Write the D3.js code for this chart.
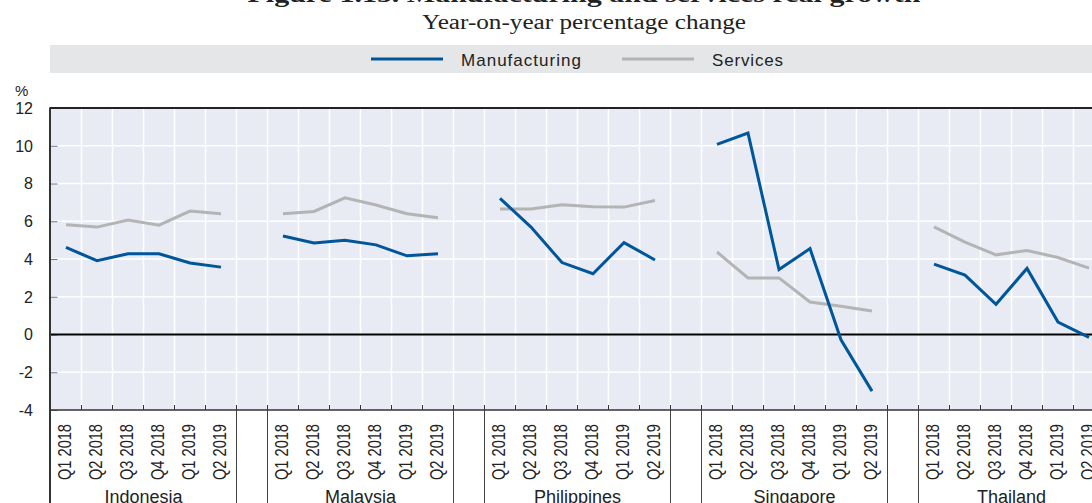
<!DOCTYPE html>
<html>
<head>
<meta charset="utf-8">
<script src="https://cdn.jsdelivr.net/npm/d3@7/dist/d3.min.js"></script>
<style>
  html, body { margin: 0; padding: 0; background: #fff; overflow: hidden; }
  svg { display: block; }
</style>
</head>
<body>
<svg id="chart"></svg>
<script>
// Quarterly growth, year-on-year %, by economy
const countries = ["Indonesia", "Malaysia", "Philippines", "Singapore", "Thailand"];
const quarters = ["Q1 2018", "Q2 2018", "Q3 2018", "Q4 2018", "Q1 2019", "Q2 2019"];
const yTicks = [-4, -2, 0, 2, 4, 6, 8, 10, 12];

const manufacturing = {
  Indonesia:   [4.61, 3.91, 4.28, 4.28, 3.79, 3.57],
  Malaysia:    [5.22, 4.85, 4.99, 4.75, 4.17, 4.28],
  Philippines: [7.21, 5.69, 3.81, 3.22, 4.87, 3.95],
  Singapore:   [10.07, 10.67, 3.44, 4.55, -0.28, -3.0],
  Thailand:    [3.73, 3.15, 1.6, 3.5, 0.66, -0.15]
};
const services = {
  Indonesia:   [5.81, 5.69, 6.07, 5.79, 6.54, 6.40],
  Malaysia:    [6.40, 6.52, 7.24, 6.86, 6.40, 6.18],
  Philippines: [6.65, 6.65, 6.87, 6.77, 6.75, 7.10],
  Singapore:   [4.37, 3.0, 3.0, 1.72, 1.5, 1.24],
  Thailand:    [5.70, 4.89, 4.22, 4.45, 4.08, 3.52]
};

const seriesList = [
  { name: "Manufacturing", values: manufacturing, color: "#00569a" },
  { name: "Services", values: services, color: "#b4b4b4" }
];

const W = 1168, H = 503;
const plot = { left: 50.5, right: 1104.5, top: 108, bottom: 410 };

const svg = d3.select("#chart").attr("width", W).attr("height", H);

// One band per quarter, with an empty band between economies
const slots = [];
countries.forEach((c, i) => {
  quarters.forEach(q => slots.push(c + "|" + q));
  if (i < countries.length - 1) slots.push("gap" + i);
});

const x = d3.scaleBand().domain(slots).range([plot.left, plot.right]).padding(0);
const y = d3.scaleLinear().domain([-4, 12]).range([plot.bottom, plot.top]);
const bw = x.bandwidth();
const cx = key => x(key) + bw / 2;

// Title and subtitle
svg.append("text")
  .attr("x", 584).attr("y", 2)
  .attr("text-anchor", "middle")
  .attr("font-family", "'Liberation Serif', 'DejaVu Serif', serif")
  .attr("font-weight", "bold")
  .attr("font-size", 23)
  .attr("fill", "#222")
  .attr("textLength", 673).attr("lengthAdjust", "spacingAndGlyphs")
  .text("Figure 1.15. Manufacturing and services real growth");

svg.append("text")
  .attr("x", 584).attr("y", 29)
  .attr("text-anchor", "middle")
  .attr("font-family", "'Liberation Serif', 'DejaVu Serif', serif")
  .attr("font-size", 20)
  .attr("fill", "#222")
  .attr("textLength", 324).attr("lengthAdjust", "spacingAndGlyphs")
  .text("Year-on-year percentage change");

// Legend band
const legend = svg.append("g");
legend.append("rect")
  .attr("x", 50).attr("y", 45).attr("width", plot.right - 50).attr("height", 28)
  .attr("fill", "#e5e6e8");
const legendItems = [
  { s: seriesList[0], x0: 371, x1: 443, tx: 461, tw: 120 },
  { s: seriesList[1], x0: 622, x1: 694, tx: 712, tw: 71 }
];
legendItems.forEach(it => {
  legend.append("line")
    .attr("x1", it.x0).attr("x2", it.x1).attr("y1", 59).attr("y2", 59)
    .attr("stroke", it.s.color).attr("stroke-width", 3);
  legend.append("text")
    .attr("x", it.tx).attr("y", 66)
    .attr("font-family", "'Liberation Sans', Arial, sans-serif")
    .attr("font-size", 17)
    .attr("fill", "#222")
    .attr("textLength", it.tw).attr("lengthAdjust", "spacing")
    .text(it.s.name);
});

// Plot background
svg.append("rect")
  .attr("x", plot.left).attr("y", plot.top)
  .attr("width", plot.right - plot.left).attr("height", plot.bottom - plot.top)
  .attr("fill", "#e8ebf4");

// White grid
const grid = svg.append("g").attr("stroke", "#fff").attr("stroke-width", 1.5);
slots.forEach((s, i) => {
  if (i === 0) return;
  grid.append("line")
    .attr("x1", x(s)).attr("x2", x(s))
    .attr("y1", plot.top).attr("y2", plot.bottom);
});
yTicks.forEach(v => {
  if (v === 12 || v === -4) return;
  grid.append("line")
    .attr("x1", plot.left).attr("x2", plot.right)
    .attr("y1", y(v)).attr("y2", y(v));
});

// Y axis with inward ticks
const yAxis = svg.append("g")
  .attr("transform", `translate(${plot.left},0)`)
  .call(d3.axisRight(y).tickValues(yTicks).tickSize(7).tickFormat(""));
yAxis.select(".domain").remove();
yAxis.selectAll(".tick line").attr("stroke", "#777").attr("stroke-width", 1);

svg.append("g").selectAll("text")
  .data(yTicks)
  .join("text")
  .attr("x", 33).attr("y", d => y(d))
  .attr("dy", "0.36em")
  .attr("text-anchor", "end")
  .attr("font-family", "'Liberation Sans', Arial, sans-serif")
  .attr("font-size", 16)
  .attr("fill", "#222")
  .text(d => d);

svg.append("text")
  .attr("x", 15).attr("y", 96)
  .attr("font-family", "'Liberation Sans', Arial, sans-serif")
  .attr("font-size", 15)
  .attr("fill", "#222")
  .text("%");

// Zero line
svg.append("line")
  .attr("x1", plot.left).attr("x2", plot.right)
  .attr("y1", y(0)).attr("y2", y(0))
  .attr("stroke", "#000").attr("stroke-width", 2);

// Series lines
const line = d3.line()
  .x(d => cx(d.key))
  .y(d => y(d.v));

seriesList.slice().reverse().forEach(s => {
  countries.forEach(c => {
    const pts = s.values[c].map((v, i) => ({ key: c + "|" + quarters[i], v }));
    svg.append("path")
      .datum(pts)
      .attr("d", line)
      .attr("fill", "none")
      .attr("stroke", s.color)
      .attr("stroke-width", 3)
      .attr("stroke-linejoin", "miter");
  });
});

// Frame: top, left, bottom
svg.append("line")
  .attr("x1", plot.left - 1).attr("x2", plot.right)
  .attr("y1", plot.top).attr("y2", plot.top)
  .attr("stroke", "#222").attr("stroke-width", 2);
svg.append("line")
  .attr("x1", plot.left - 0.5).attr("x2", plot.left - 0.5)
  .attr("y1", plot.top).attr("y2", H)
  .attr("stroke", "#333").attr("stroke-width", 2);
svg.append("line")
  .attr("x1", plot.left).attr("x2", plot.right)
  .attr("y1", plot.bottom).attr("y2", plot.bottom)
  .attr("stroke", "#333").attr("stroke-width", 1.5);

// Bottom ticks at band edges
const ticks = svg.append("g").attr("stroke", "#333").attr("stroke-width", 1);
slots.forEach((s, i) => {
  if (i === 0) return;
  ticks.append("line")
    .attr("x1", x(s)).attr("x2", x(s))
    .attr("y1", plot.bottom - 5).attr("y2", plot.bottom);
});

// Economy group separators below the axis
const sep = svg.append("g").attr("stroke", "#444").attr("stroke-width", 1);
countries.forEach((c, i) => {
  const x0 = x(c + "|" + quarters[0]);
  const x1 = x(c + "|" + quarters[quarters.length - 1]) + bw;
  [x0, x1].forEach(xx => {
    if (i === 0 && xx === x0) return;
    sep.append("line")
      .attr("x1", xx).attr("x2", xx)
      .attr("y1", plot.bottom).attr("y2", H);
  });
});

// Quarter labels (rotated, condensed) and economy names
const labels = svg.append("g")
  .attr("font-family", "'Liberation Sans', Arial, sans-serif")
  .attr("fill", "#222");
countries.forEach(c => {
  quarters.forEach(q => {
    const px = cx(c + "|" + q);
    labels.append("text")
      .attr("transform", `translate(${px + 5},424) rotate(-90)`)
      .attr("text-anchor", "end")
      .attr("font-size", 19)
      .attr("textLength", 56).attr("lengthAdjust", "spacingAndGlyphs")
      .text(q);
  });
  const gx0 = x(c + "|" + quarters[0]);
  const gx1 = x(c + "|" + quarters[quarters.length - 1]) + bw;
  labels.append("text")
    .attr("x", (gx0 + gx1) / 2).attr("y", 503)
    .attr("text-anchor", "middle")
    .attr("font-size", 18)
    .text(c);
});
</script>
</body>
</html>
